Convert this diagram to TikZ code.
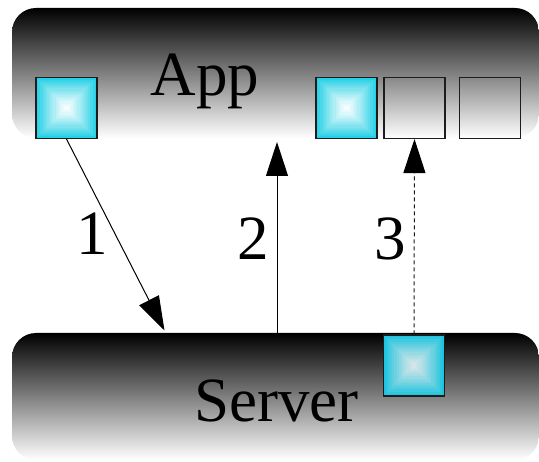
\documentclass[tikz,border=0pt]{standalone}
\usepackage{fontspec}
\setmainfont{Liberation Serif}
\usetikzlibrary{arrows.meta}

\definecolor{cyanc}{RGB}{38,208,230}
\definecolor{cyanm}{RGB}{30,196,222}
\definecolor{mistc}{RGB}{220,230,232}
\definecolor{edgec}{RGB}{28,28,28}

\tikzset{
  x=1pt, y=-1pt,
  layer/.style={rounded corners=24pt, top color=black, bottom color=white,
    minimum width=527pt, inner sep=0pt},
  % square filled with concentric steps from #1 (rim) to #2 (centre)
  glowsq/.style n args={2}{draw=edgec, line width=1.1pt, minimum size=61pt,
    inner sep=0pt,
    path picture={
      \foreach \i in {0,...,13}{
        \pgfmathsetmacro\f{1-\i/14}
        \pgfmathsetmacro\p{100*\f^1.2}
        \fill[#1!\p!#2, shift={(path picture bounding box.center)}]
          (-30.5*\f,-30.5*\f) rectangle (30.5*\f,30.5*\f);
      }
    }},
  emptysq/.style={draw=edgec, line width=1.1pt, minimum size=61pt, inner sep=0pt},
  big/.style={font=\fontsize{63}{70}\selectfont, inner sep=0pt, anchor=base},
  arr/.style={line width=1pt, -{Triangle[length=34pt, width=22pt]}},
  darr/.style={line width=1pt, draw=black!90, dash pattern=on 4pt off 3pt,
    -{Triangle[length=34pt, width=22pt, color=black, fill=black]}}
}

\begin{document}
\begin{tikzpicture}
  \useasboundingbox (0,0) rectangle (539,462);

  % the two layers
  \node[layer, minimum height=130pt] (app) at (275.5,73) {};
  \node[layer, minimum height=127pt] (srv) at (275.5,396.5) {};

  \node[big] (apptxt) at (205,96) {App};
  \node[big] (srvtxt) at (276.5,422) {Server};

  % queue on the client side
  \node[glowsq={cyanc}{white}] (sqA) at (66.5,108) {};
  \node[glowsq={cyanc}{white}] (sqB) at (346.5,108) {};
  \node[emptysq] (sqC) at (414.5,108) {};
  \node[emptysq] (sqD) at (490,108) {};

  % item held by the server
  \node[glowsq={cyanm}{mistc}] (sqS) at (414,365.5) {};

  % message flow
  \coordinate (e1) at (164.5,330.5);
  \coordinate (s2) at (277,333);
  \coordinate (e2) at (277,142);
  \draw[arr] (sqA.south) -- (e1);
  \draw[arr] (s2) -- (e2);
  \draw[darr] (sqS.north) -- (sqC.south);

  \node[big] (n1) at (92.5,255) {1};
  \node[big] (n2) at (253,260) {2};
  \node[big] (n3) at (390,260) {3};
\end{tikzpicture}
\end{document}
